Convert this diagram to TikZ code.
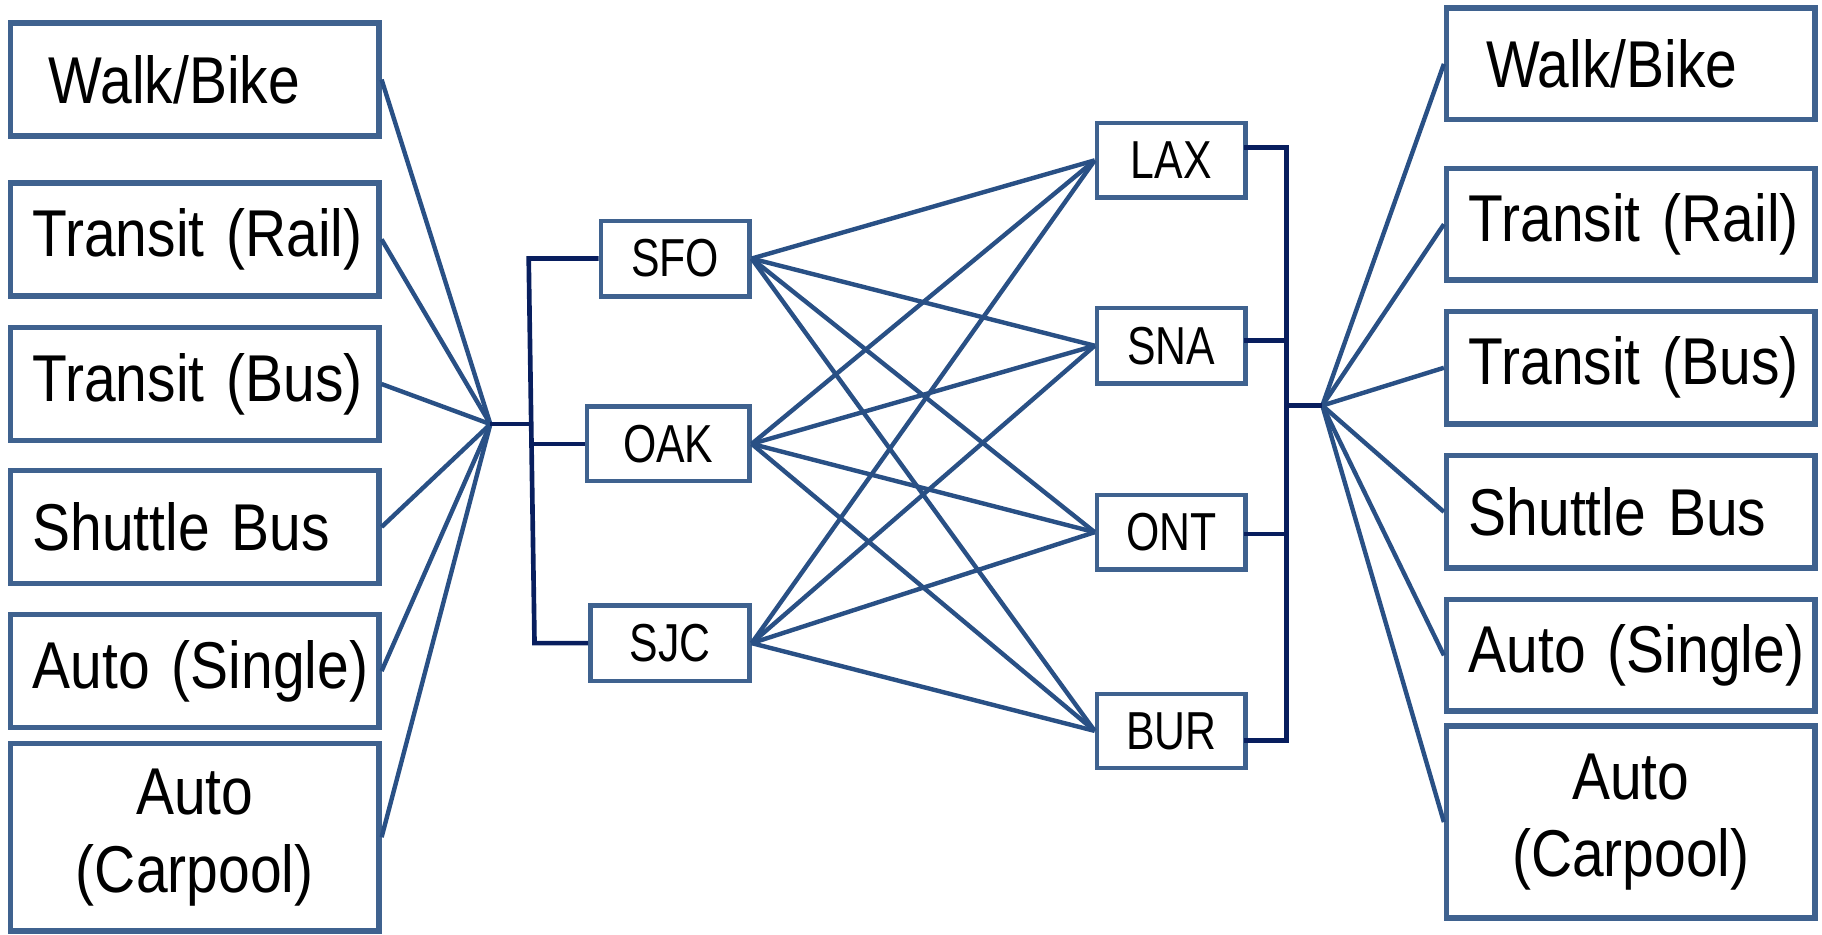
\documentclass[tikz,border=0pt]{standalone}
\usepackage{fontspec}
\setmainfont{Liberation Sans}[FakeStretch=0.86,WordSpace={0.6,0,0}]
\newfontfamily\apfam{Liberation Sans}[FakeStretch=0.8]
\usetikzlibrary{calc}
\definecolor{boxc}{RGB}{63,98,143}
\definecolor{linec}{RGB}{41,80,133}
\definecolor{brkc}{RGB}{8,30,94}
\newcommand\modefont{\fontsize{57}{67}\selectfont}
\newcommand\apfont{\apfam\fontsize{46}{50}\selectfont}
\begin{document}
\begin{tikzpicture}[x=1pt,y=-1pt,
  modebox/.style={draw=boxc,line width=4.8pt,fill=white,inner xsep=19pt,inner ysep=0pt,
    text width=279pt,minimum height=#1,align=left,font=\modefont},
  modebox/.default=97pt,
  apbox/.style={draw=boxc,line width=3.8pt,fill=white,inner sep=0pt,minimum height=65pt,font=\apfont},
  conn/.style={draw=linec,line width=3.8pt},
  brk/.style={draw=brkc,line width=4pt}]
\useasboundingbox (0,0) rectangle (1568,804);

% left mode boxes
\node[modebox] (L1) at (167.5,68.5) {\hspace*{14pt}Walk/Bike};
\node[modebox] (L2) at (167.5,206) {\mbox{Transit (Rail)}};
\node[modebox] (L3) at (167.5,330.5) {\mbox{Transit (Bus)}};
\node[modebox] (L4) at (167.5,453.5) {\mbox{Shuttle Bus}};
\node[modebox] (L5) at (167.5,577.5) {\mbox{Auto (Single)}};
\node[modebox=161pt,align=center] (L6) at (167.5,720.5) {Auto\\(Carpool)};

% right mode boxes
\node[modebox=96pt] (R1) at (1403.5,55) {\hspace*{15pt}Walk/Bike};
\node[modebox=96pt] (R2) at (1403.5,193) {\mbox{Transit (Rail)}};
\node[modebox] (R3) at (1403.5,316.5) {\mbox{Transit (Bus)}};
\node[modebox] (R4) at (1403.5,440.5) {\mbox{Shuttle Bus}};
\node[modebox=96pt] (R5) at (1403.5,564) {\mbox{Auto (Single)}};
\node[modebox=165pt,align=center] (R6) at (1403.5,707.5) {Auto\\(Carpool)};

% airports
\node[apbox,minimum width=128pt] (SFO) at (581,222.5) {SFO};
\node[apbox,minimum width=140pt,minimum height=64pt] (OAK) at (575,382) {OAK};
\node[apbox,minimum width=137pt] (SJC) at (576.5,553.5) {SJC};
\node[apbox,minimum width=128pt,minimum height=64pt] (LAX) at (1008,138) {LAX};
\node[apbox,minimum width=128pt] (SNA) at (1008,297.5) {SNA};
\node[apbox,minimum width=128pt,minimum height=64pt] (ONT) at (1008,458) {ONT};
\node[apbox,minimum width=128pt,minimum height=64pt] (BUR) at (1008,629) {BUR};

% left fan and bracket
\coordinate (LF) at (422,365);
\coordinate (LJ) at (456.5,365);
\coordinate (LBt) at (455,222.5);
\coordinate (LBm) at (457.5,382);
\coordinate (LBb) at (460,553.5);
\foreach \n in {L1,L2,L3,L4,L5,L6} \draw[conn] (\n.east) -- (LF);
\draw[brk] (LF) -- (LJ);
\draw[brk] (SFO.west) -- (LBt) -- (LBb) -- (SJC.west);
\draw[brk] (LBm) -- (OAK.west);

% right fan and bracket
\coordinate (RF) at (1138,349);
\coordinate (RJ) at (1107,349);
\coordinate (RBt) at (1107,127);
\coordinate (RBb) at (1107,637);
\foreach \n in {R1,R2,R3,R4,R5,R6} \draw[conn] (RF) -- (\n.west);
\draw[brk] (RJ) -- (RF);
\draw[brk] ($(LAX.east)+(-3,-11)$) -- (RBt) -- (RBb) -- ($(BUR.east)+(-3,8)$);
\draw[brk] ($(SNA.east)+(-3,-4.5)$) -- (RBt |- {$(SNA.east)+(0,-4.5)$});
\draw[brk] ($(ONT.east)+(-3,1.5)$) -- (RBt |- {$(ONT.east)+(0,1.5)$});

% airport connections
\foreach \a in {SFO,OAK,SJC}
  \foreach \b in {LAX,SNA,ONT,BUR}
    \draw[conn] (\a.east) -- (\b.west);
\end{tikzpicture}
\end{document}
